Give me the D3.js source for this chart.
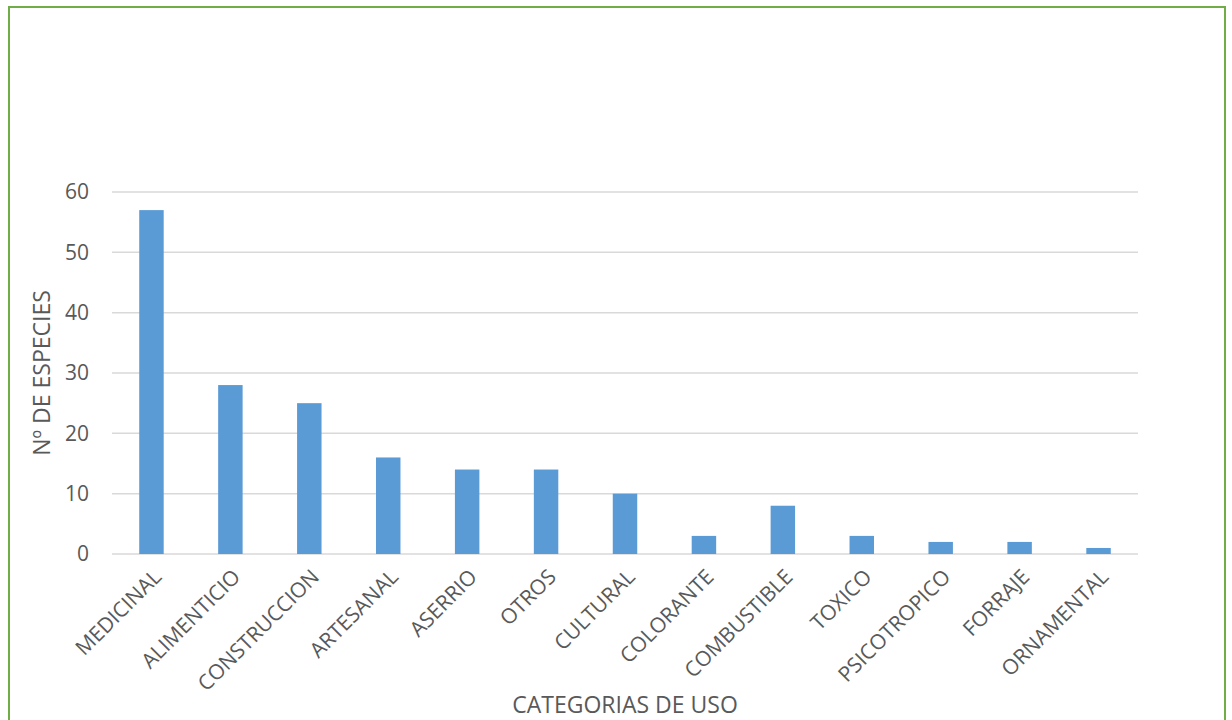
<!DOCTYPE html>
<html><head><meta charset="utf-8">
<script src="https://cdn.jsdelivr.net/npm/d3@7"></script>
<style>body{margin:0;background:#fff}svg{display:block}</style>
</head><body>
<script>
const categories = ["MEDICINAL","ALIMENTICIO","CONSTRUCCION","ARTESANAL","ASERRIO","OTROS","CULTURAL","COLORANTE","COMBUSTIBLE","TOXICO","PSICOTROPICO","FORRAJE","ORNAMENTAL"];
const values = [57,28,25,16,14,14,10,3,8,3,2,2,1];
const yTicks = [0,10,20,30,40,50,60];
const yTitle = "Nº DE ESPECIES";
const xTitle = "CATEGORIAS DE USO";

const W=1232,H=720;
const svg=d3.select("body").append("svg").attr("width",W).attr("height",H);
svg.append("rect").attr("x",9).attr("y",7).attr("width",1216).attr("height",730)
  .attr("fill","none").attr("stroke","#70ad47").attr("stroke-width",2);

const x=d3.scaleBand().domain(categories).range([112,1138]).paddingInner(0.69).paddingOuter(0.345);
const y=d3.scaleLinear().domain([0,60]).range([554,192]);
const font="'Open Sans', sans-serif";
const g=svg.append("g");
g.selectAll("line.grid").data(yTicks).join("line")
  .attr("x1",112).attr("x2",1138).attr("y1",d=>y(d)).attr("y2",d=>y(d))
  .attr("stroke","#d9d9d9").attr("stroke-width",1.5);
g.selectAll("rect.bar").data(values).join("rect")
  .attr("x",(d,i)=>x(categories[i])).attr("width",x.bandwidth())
  .attr("y",d=>y(d)).attr("height",d=>y(0)-y(d)).attr("fill","#5b9bd5");
g.selectAll("text.yt").data(yTicks).join("text")
  .attr("x",89).attr("y",d=>y(d)).attr("dy","0.35em").attr("text-anchor","end")
  .attr("font-family",font).attr("font-size",21).attr("fill","#595959").text(d=>d);
g.selectAll("text.xt").data(categories).join("text")
  .attr("transform",d=>`translate(${x(d)+x.bandwidth()/2+6},${573}) rotate(-45)`)
  .attr("text-anchor","end").attr("dy","0.35em")
  .attr("font-family",font).attr("font-size",21).attr("fill","#595959").text(d=>d);
svg.append("text").attr("transform","translate(42,373) rotate(-90)").attr("text-anchor","middle")
  .attr("dy","0.35em").attr("font-family",font).attr("font-size",23).attr("fill","#595959").text(yTitle);
svg.append("text").attr("x",625).attr("y",705).attr("text-anchor","middle").attr("dy","0.35em")
  .attr("font-family",font).attr("font-size",23).attr("fill","#595959").text(xTitle);
</script>
</body></html>
